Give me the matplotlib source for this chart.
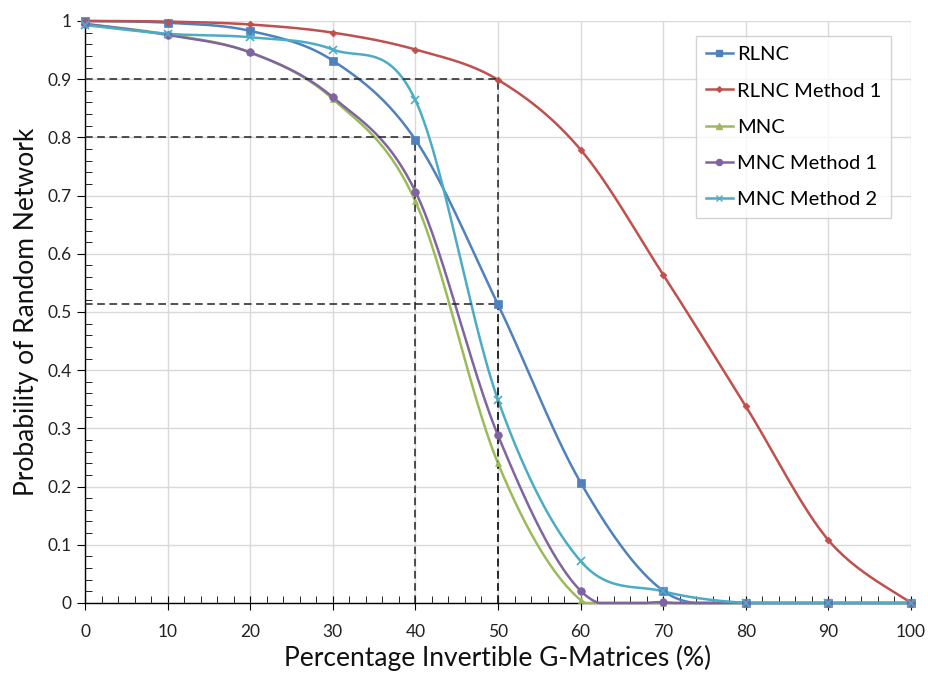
import matplotlib
matplotlib.use('Agg')
import matplotlib.pyplot as plt
import numpy as np
from matplotlib.ticker import MultipleLocator

# Percentage of invertible G-matrices (x axis)
pct = [0, 10, 20, 30, 40, 50, 60, 70, 80, 90, 100]

# Probability of a random network, one list per scheme
rlnc = [1.0, 0.997, 0.983, 0.932, 0.796, 0.513, 0.207, 0.021, 0.0, 0.0, 0.0]
rlnc_m1 = [1.0, 0.999, 0.994, 0.980, 0.951, 0.899, 0.779, 0.564, 0.338, 0.108, 0.0]
mnc = [0.995, 0.977, 0.946, 0.866, 0.690, 0.240, 0.005, 0.0, 0.0, 0.0, 0.0]
mnc_m1 = [0.995, 0.976, 0.946, 0.869, 0.707, 0.288, 0.021, 0.001, 0.0, 0.0, 0.0]
mnc_m2 = [0.993, 0.978, 0.972, 0.951, 0.864, 0.349, 0.072, 0.020, 0.0, 0.0, 0.0]

# Dashed guide lines: (x end, y level)
guides = [(50, 0.9), (40, 0.8), (50, 0.513)]

plt.rcParams['font.family'] = ['Lato', 'DejaVu Sans']


def suavizar(x, y, n=30):
    """Curva suave (Catmull-Rom / Bezier) passando pelos pontos"""
    p = np.column_stack([x, y]).astype(float)
    p = np.vstack([p[0], p, p[-1]])
    t = np.linspace(0, 1, n)[:, None]
    segs = []
    for i in range(1, len(p) - 2):
        p0, p1 = p[i], p[i + 1]
        c1 = p0 + (p[i + 1] - p[i - 1]) / 6.0
        c2 = p1 - (p[i + 2] - p[i]) / 6.0
        b = ((1 - t) ** 3) * p0 + 3 * ((1 - t) ** 2) * t * c1 \
            + 3 * (1 - t) * t ** 2 * c2 + t ** 3 * p1
        segs.append(b)
    curva = np.vstack(segs)
    return curva[:, 0], np.clip(curva[:, 1], 0, 1)


series = [
    ('RLNC', rlnc, '#4F81BD', 's', 6),
    ('RLNC Method 1', rlnc_m1, '#C0504D', 'D', 3.5),
    ('MNC', mnc, '#9BBB59', '^', 5),
    ('MNC Method 1', mnc_m1, '#8064A2', 'o', 5.5),
    ('MNC Method 2', mnc_m2, '#4BACC6', 'x', 6),
]

fig = plt.figure(figsize=(9.29, 6.75), dpi=100)
ax = fig.add_axes([0.0915, 0.1067, 0.8891, 0.8622])

for x_fim, nivel in guides:
    ax.plot([0, x_fim], [nivel, nivel], color='#222222', lw=1.1,
            dashes=(5, 3), zorder=4, clip_on=False)
    ax.plot([x_fim, x_fim], [0, nivel], color='#222222', lw=1.1,
            dashes=(5, 3), zorder=4, clip_on=False)

for nome, vals, cor, marc, tam in series:
    xs, ys = suavizar(pct, vals)
    ax.plot(xs, ys, color=cor, lw=1.8, zorder=3, clip_on=False)
    ax.plot(pct, vals, linestyle='none', marker=marc, color=cor,
            markersize=tam, markeredgewidth=1.2 if marc == 'x' else 0.5,
            zorder=5, clip_on=False)
    ax.plot([], [], color=cor, lw=1.8, marker=marc, markersize=tam * 0.8,
            label=nome)

ax.set_xlim(0, 100)
ax.set_ylim(0, 1)
ax.xaxis.set_major_locator(MultipleLocator(10))
ax.xaxis.set_minor_locator(MultipleLocator(2))
ax.yaxis.set_major_locator(MultipleLocator(0.1))
ax.yaxis.set_minor_locator(MultipleLocator(0.02))
ax.set_yticks(np.arange(0, 1.01, 0.1))
ax.set_yticklabels(['0'] + [f'{v:.1f}' for v in np.arange(0.1, 0.95, 0.1)] + ['1'])

ax.grid(True, which='major', color='#D9D9D9', lw=1.0, zorder=0)
for lado in ['top', 'right']:
    ax.spines[lado].set_visible(False)
for lado in ['left', 'bottom']:
    ax.spines[lado].set_color('black')
    ax.spines[lado].set_linewidth(1.0)

ax.tick_params(axis='both', which='major', direction='out', length=6,
               labelsize=12.5, colors='black', labelcolor='#222222')
ax.tick_params(axis='x', which='major', direction='inout', length=10, pad=10)
ax.tick_params(axis='both', which='minor', direction='in', length=5)

ax.set_xlabel('Percentage Invertible G-Matrices (%)', fontsize=19,
              color='#111111', labelpad=4)
ax.set_ylabel('Probability of Random Network', fontsize=19,
              color='#111111', labelpad=6)

leg = ax.legend(loc='upper right', bbox_to_anchor=(0.976, 0.974),
                fontsize=14.5, frameon=True, fancybox=False,
                handlelength=1.35, handletextpad=0.2, labelspacing=0.95,
                borderpad=0.5, borderaxespad=0)
leg.get_frame().set_edgecolor('#C8C8C8')
leg.get_frame().set_linewidth(1.0)

plt.savefig('out.png', dpi=100)
plt.close()
